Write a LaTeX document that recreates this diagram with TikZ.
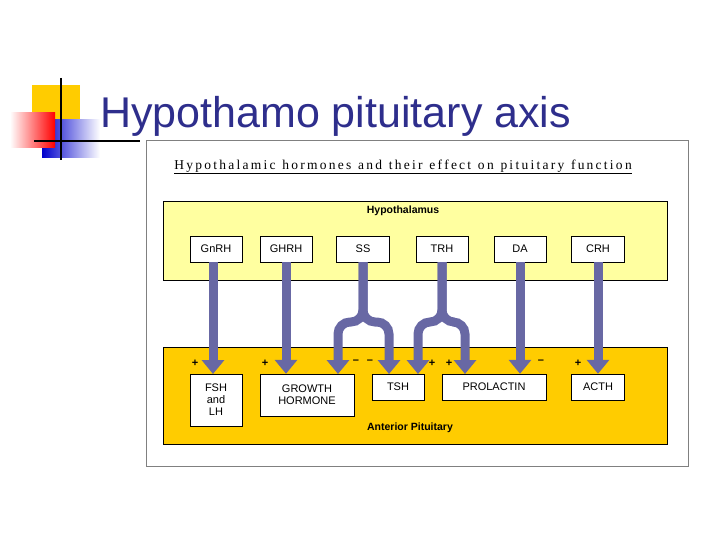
\documentclass[tikz,border=0pt]{standalone}
\usepackage{fontspec}
\setmainfont{Liberation Sans}
\newfontfamily\capfont{Liberation Serif}
\usetikzlibrary{arrows.meta,positioning,calc}
\definecolor{titleblue}{RGB}{46,46,140}
\definecolor{hypofill}{RGB}{255,255,160}
\definecolor{pitfill}{RGB}{255,204,0}
\definecolor{logoyellow}{RGB}{255,204,0}
\definecolor{arrowblue}{RGB}{104,104,164}
\tikzset{
    hbox/.style={draw, fill=white, inner sep=0pt, font=\fontsize{11}{12}\selectfont, align=center},
    harrow/.style={arrowblue, line width=9pt, -{Triangle[width=22pt,length=14pt]}},
    sign/.style={font=\fontsize{11}{11}\selectfont\bfseries, inner sep=0pt}
}
\begin{document}
\begin{tikzpicture}[x=1pt,y=-1pt]
    \useasboundingbox (0,0) rectangle (720,540);
    % logo
    \fill[logoyellow] (32,85) rectangle (80,120);
    \shade[left color=blue!80!black, right color=white] (42,120) rectangle (100,158);
    \shade[left color=white, right color=red] (10,113) rectangle (55,148);
    \draw[line width=1.5pt] (61,78) -- (61,160);
    \draw[line width=1.5pt] (34,141) -- (140,141);
    \node[anchor=base west, text=titleblue, font=\fontsize{43}{45}\selectfont, inner sep=0pt] (title) at (100,128) {Hypothamo pituitary axis};
    % frame
    \draw[gray, line width=1pt] (146,141) rectangle (688,466);
    \node[font=\capfont\fontsize{13.5}{13}\selectfont, inner sep=1pt] (cap) at (403,167) {\underline{H\,y\,p\,o\,t\,h\,a\,l\,a\,m\,i\,c\ \ h\,o\,r\,m\,o\,n\,e\,s\ \ a\,n\,d\ \ t\,h\,e\,i\,r\ \ e\,f\,f\,e\,c\,t\ \ o\,n\ \ p\,i\,t\,u\,i\,t\,a\,r\,y\ \ f\,u\,n\,c\,t\,i\,o\,n}};
    % regions
    \draw[fill=hypofill] (163,201) rectangle (667,280);
    \draw[fill=pitfill] (163,347) rectangle (667,444);
    \node[font=\fontsize{10.5}{10}\selectfont\bfseries] (hypo) at (403,211) {Hypothalamus};
    \node[font=\fontsize{10.5}{10}\selectfont\bfseries] (ant) at (410,428) {Anterior Pituitary};
    % hypothalamic hormones
    \node[hbox, minimum width=52pt, minimum height=26pt] (gnrh) at (216,249) {GnRH};
    \node[hbox, minimum width=52pt, minimum height=26pt] (ghrh) at (286,249) {GHRH};
    \node[hbox, minimum width=53pt, minimum height=26pt] (ss) at (363,249) {SS};
    \node[hbox, minimum width=52pt, minimum height=26pt] (trh) at (442,249) {TRH};
    \node[hbox, minimum width=52pt, minimum height=26pt] (da) at (520,249) {DA};
    \node[hbox, minimum width=53pt, minimum height=26pt] (crh) at (598,249) {CRH};
    % pituitary hormones
    \node[hbox, minimum width=52pt, minimum height=52pt] (fsh) at (216,400) {FSH\\and\\LH};
    \node[hbox, minimum width=94pt, minimum height=42pt] (gh) at (307,395) {GROWTH\\HORMONE};
    \node[hbox, minimum width=52pt, minimum height=26pt] (tsh) at (398,387) {TSH};
    \node[hbox, minimum width=104pt, minimum height=26pt] (prl) at (494,387) {PROLACTIN};
    \node[hbox, minimum width=53pt, minimum height=26pt] (acth) at (598,387) {ACTH};
    % arrows
    \draw[harrow] (gnrh.south -| 213,0) -- (213,374);
    \draw[harrow] (ghrh.south) -- (ghrh.south |- gh.north);
    \draw[harrow] (da.south) -- (da.south |- prl.north);
    \draw[harrow] (crh.south) -- (crh.south |- acth.north);
    \draw[harrow, rounded corners=12pt] (ss.south) -- (363,322) -- (338,322) -- (338,374);
    \draw[harrow, rounded corners=12pt] (ss.south) -- (363,322) -- (389,322) -- (389,374);
    \draw[harrow, rounded corners=12pt] (trh.south) -- (442,322) -- (418,322) -- (418,374);
    \draw[harrow, rounded corners=12pt] (trh.south) -- (442,322) -- (465,322) -- (465,374);
    % signs
    \node[sign] at (195,363) {+};
    \node[sign] at (265,363) {+};
    \node[sign] at (356,362) {--};
    \node[sign] at (370,362) {--};
    \node[sign] at (432,363) {+};
    \node[sign] at (449,363) {+};
    \node[sign] at (541,362) {--};
    \node[sign] at (578,363) {+};
\end{tikzpicture}
\end{document}
